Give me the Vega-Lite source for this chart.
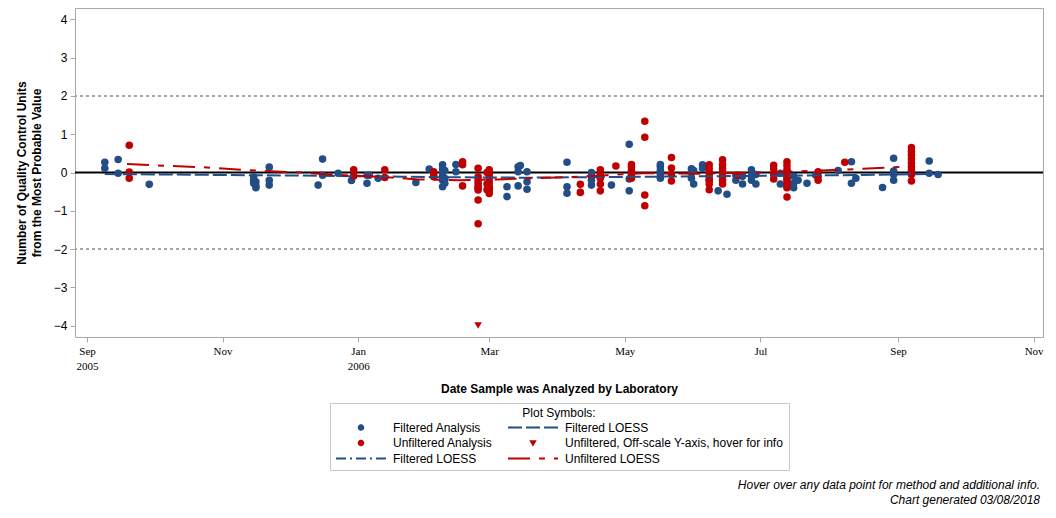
{
  "$schema": "https://vega.github.io/schema/vega-lite/v6.json",
  "width": 968,
  "height": 329,
  "autosize": "none",
  "padding": {"left": 75, "top": 8, "right": 13, "bottom": 181},
  "title": {
    "text": ["Hover over any data point for method and additional info.", "Chart generated 03/08/2018"],
    "orient": "bottom", "anchor": "end", "frame": "group",
    "fontSize": 12, "fontStyle": "italic", "fontWeight": "normal", "font": "Liberation Sans",
    "color": "#000", "lineHeight": 15, "offset": 9, "dx": -3
  },
  "config": {
    "font": "Liberation Sans",
    "view": {"stroke": "#a8a8a8", "strokeWidth": 1},
    "axis": {
      "domain": false, "grid": false, "tickColor": "#a8a8a8", "tickSize": 5,
      "labelColor": "#000", "titleColor": "#000", "labelFontSize": 12, "titleFontSize": 12,
      "titleFontWeight": "bold", "labelFont": "Liberation Sans", "titleFont": "Liberation Sans"
    },
    "legend": {
      "strokeColor": "#c8c8c8", "padding": 5, "titleAnchor": "middle", "titleFontSize": 12,
      "titleFontWeight": "normal", "titleFont": "Liberation Sans", "labelFont": "Liberation Sans",
      "labelFontSize": 12, "labelColor": "#000", "titleColor": "#000", "clipHeight": 13,
      "rowPadding": 2.5, "columnPadding": 14, "labelOffset": 6, "titlePadding": 1,
      "labelLimit": 400, "titleLimit": 500, "symbolStrokeWidth": 2
    }
  },
  "encoding": {
    "y": {
      "field": "v", "type": "quantitative",
      "scale": {"domain": [-4.3, 4.3], "nice": false, "zero": false},
      "axis": {"values": [-4, -3, -2, -1, 0, 1, 2, 3, 4], "labelPadding": 3, "titlePadding": 10, "titleLineHeight": 15},
      "title": ["Number of Quality Control Units", "from the Most Probable Value"]
    }
  },
  "layer": [
    {
      "data": {"values": [{"v": 2}, {"v": -2}]},
      "mark": {"type": "rule", "color": "#a8a8a8", "strokeDash": [3, 3], "strokeWidth": 2}
    },
    {
      "data": {"values": [{"v": 0}]},
      "mark": {"type": "rule", "color": "#000000", "strokeWidth": 2}
    },
    {
      "data": {"values": [
        {"d":"2005-09-09","v":0.27,"s":"FA"},{"d":"2005-09-09","v":0.11,"s":"FA"},
        {"d":"2005-09-15","v":0.34,"s":"FA"},{"d":"2005-09-15","v":-0.02,"s":"FA"},
        {"d":"2005-09-29","v":-0.31,"s":"FA"},
        {"d":"2005-11-15","v":-0.12,"s":"FA"},{"d":"2005-11-15","v":-0.2,"s":"FA"},{"d":"2005-11-15","v":-0.28,"s":"FA"},
        {"d":"2005-11-16","v":-0.35,"s":"FA"},{"d":"2005-11-16","v":-0.4,"s":"FA"},{"d":"2005-11-16","v":-0.24,"s":"FA"},
        {"d":"2005-11-22","v":0.14,"s":"FA"},{"d":"2005-11-22","v":-0.2,"s":"FA"},{"d":"2005-11-22","v":-0.33,"s":"FA"},
        {"d":"2005-12-14","v":-0.33,"s":"FA"},
        {"d":"2005-12-16","v":0.35,"s":"FA"},{"d":"2005-12-16","v":-0.07,"s":"FA"},
        {"d":"2005-12-23","v":-0.02,"s":"FA"},
        {"d":"2005-12-29","v":-0.21,"s":"FA"},
        {"d":"2006-01-05","v":-0.28,"s":"FA"},{"d":"2006-01-05","v":-0.07,"s":"FA"},
        {"d":"2006-01-06","v":-0.07,"s":"FA"},
        {"d":"2006-01-10","v":-0.15,"s":"FA"},
        {"d":"2006-01-27","v":-0.26,"s":"FA"},
        {"d":"2006-02-02","v":0.09,"s":"FA"},
        {"d":"2006-02-08","v":0.2,"s":"FA"},{"d":"2006-02-08","v":0.1,"s":"FA"},{"d":"2006-02-08","v":0.0,"s":"FA"},{"d":"2006-02-08","v":-0.1,"s":"FA"},{"d":"2006-02-08","v":-0.2,"s":"FA"},{"d":"2006-02-08","v":-0.37,"s":"FA"},
        {"d":"2006-02-09","v":0.05,"s":"FA"},{"d":"2006-02-09","v":-0.15,"s":"FA"},{"d":"2006-02-09","v":-0.28,"s":"FA"},
        {"d":"2006-02-14","v":0.21,"s":"FA"},{"d":"2006-02-14","v":0.02,"s":"FA"},
        {"d":"2006-03-09","v":-0.37,"s":"FA"},{"d":"2006-03-09","v":-0.63,"s":"FA"},
        {"d":"2006-03-14","v":0.15,"s":"FA"},{"d":"2006-03-14","v":0.02,"s":"FA"},{"d":"2006-03-14","v":-0.35,"s":"FA"},
        {"d":"2006-03-15","v":0.18,"s":"FA"},
        {"d":"2006-03-18","v":0.02,"s":"FA"},{"d":"2006-03-18","v":-0.24,"s":"FA"},{"d":"2006-03-18","v":-0.44,"s":"FA"},
        {"d":"2006-04-05","v":0.27,"s":"FA"},{"d":"2006-04-05","v":-0.37,"s":"FA"},{"d":"2006-04-05","v":-0.54,"s":"FA"},
        {"d":"2006-04-16","v":0.0,"s":"FA"},{"d":"2006-04-16","v":-0.1,"s":"FA"},{"d":"2006-04-16","v":-0.2,"s":"FA"},{"d":"2006-04-16","v":-0.33,"s":"FA"},
        {"d":"2006-04-25","v":-0.33,"s":"FA"},
        {"d":"2006-05-03","v":0.74,"s":"FA"},{"d":"2006-05-03","v":-0.17,"s":"FA"},{"d":"2006-05-03","v":-0.48,"s":"FA"},
        {"d":"2006-05-17","v":0.21,"s":"FA"},{"d":"2006-05-17","v":0.15,"s":"FA"},{"d":"2006-05-17","v":0.05,"s":"FA"},{"d":"2006-05-17","v":-0.05,"s":"FA"},{"d":"2006-05-17","v":-0.15,"s":"FA"},
        {"d":"2006-05-31","v":0.1,"s":"FA"},{"d":"2006-05-31","v":0.0,"s":"FA"},{"d":"2006-05-31","v":-0.15,"s":"FA"},
        {"d":"2006-06-01","v":0.05,"s":"FA"},{"d":"2006-06-01","v":-0.3,"s":"FA"},
        {"d":"2006-06-05","v":0.2,"s":"FA"},{"d":"2006-06-05","v":0.11,"s":"FA"},
        {"d":"2006-06-08","v":-0.2,"s":"FA"},
        {"d":"2006-06-12","v":-0.48,"s":"FA"},
        {"d":"2006-06-16","v":-0.57,"s":"FA"},
        {"d":"2006-06-20","v":-0.07,"s":"FA"},{"d":"2006-06-20","v":-0.2,"s":"FA"},
        {"d":"2006-06-23","v":-0.1,"s":"FA"},{"d":"2006-06-23","v":-0.3,"s":"FA"},
        {"d":"2006-06-27","v":0.07,"s":"FA"},{"d":"2006-06-27","v":-0.1,"s":"FA"},{"d":"2006-06-27","v":-0.2,"s":"FA"},
        {"d":"2006-06-29","v":-0.05,"s":"FA"},{"d":"2006-06-29","v":-0.3,"s":"FA"},
        {"d":"2006-07-10","v":-0.02,"s":"FA"},{"d":"2006-07-10","v":-0.3,"s":"FA"},
        {"d":"2006-07-13","v":-0.15,"s":"FA"},{"d":"2006-07-13","v":-0.37,"s":"FA"},
        {"d":"2006-07-16","v":-0.1,"s":"FA"},{"d":"2006-07-16","v":-0.28,"s":"FA"},{"d":"2006-07-16","v":-0.4,"s":"FA"},
        {"d":"2006-07-18","v":-0.2,"s":"FA"},
        {"d":"2006-07-22","v":-0.28,"s":"FA"},
        {"d":"2006-07-26","v":-0.07,"s":"FA"},
        {"d":"2006-08-05","v":0.05,"s":"FA"},
        {"d":"2006-08-11","v":0.28,"s":"FA"},{"d":"2006-08-11","v":-0.28,"s":"FA"},
        {"d":"2006-08-13","v":-0.15,"s":"FA"},
        {"d":"2006-08-25","v":-0.39,"s":"FA"},
        {"d":"2006-08-30","v":0.37,"s":"FA"},{"d":"2006-08-30","v":0.04,"s":"FA"},{"d":"2006-08-30","v":-0.05,"s":"FA"},{"d":"2006-08-30","v":-0.2,"s":"FA"},
        {"d":"2006-09-15","v":0.3,"s":"FA"},{"d":"2006-09-15","v":-0.02,"s":"FA"},
        {"d":"2006-09-19","v":-0.05,"s":"FA"},
        {"d":"2005-09-20","v":0.71,"s":"UA"},{"d":"2005-09-20","v":0.01,"s":"UA"},{"d":"2005-09-20","v":-0.15,"s":"UA"},
        {"d":"2005-12-30","v":0.07,"s":"UA"},{"d":"2005-12-30","v":-0.09,"s":"UA"},
        {"d":"2006-01-13","v":0.07,"s":"UA"},{"d":"2006-01-13","v":-0.13,"s":"UA"},
        {"d":"2006-02-04","v":0.02,"s":"UA"},{"d":"2006-02-04","v":-0.06,"s":"UA"},{"d":"2006-02-04","v":-0.11,"s":"UA"},
        {"d":"2006-02-17","v":0.28,"s":"UA"},{"d":"2006-02-17","v":0.2,"s":"UA"},{"d":"2006-02-17","v":-0.35,"s":"UA"},
        {"d":"2006-02-24","v":0.11,"s":"UA"},{"d":"2006-02-24","v":-0.11,"s":"UA"},{"d":"2006-02-24","v":-0.2,"s":"UA"},{"d":"2006-02-24","v":-0.28,"s":"UA"},{"d":"2006-02-24","v":-0.36,"s":"UA"},{"d":"2006-02-24","v":-0.42,"s":"UA"},{"d":"2006-02-24","v":-0.46,"s":"UA"},{"d":"2006-02-24","v":-0.72,"s":"UA"},{"d":"2006-02-24","v":-1.34,"s":"UA"},
        {"d":"2006-02-28","v":0.0,"s":"UA"},{"d":"2006-02-28","v":-0.3,"s":"UA"},{"d":"2006-02-28","v":-0.45,"s":"UA"},
        {"d":"2006-03-01","v":0.07,"s":"UA"},{"d":"2006-03-01","v":-0.05,"s":"UA"},{"d":"2006-03-01","v":-0.15,"s":"UA"},{"d":"2006-03-01","v":-0.25,"s":"UA"},{"d":"2006-03-01","v":-0.35,"s":"UA"},{"d":"2006-03-01","v":-0.42,"s":"UA"},{"d":"2006-03-01","v":-0.48,"s":"UA"},{"d":"2006-03-01","v":-0.55,"s":"UA"},
        {"d":"2006-04-11","v":-0.31,"s":"UA"},{"d":"2006-04-11","v":-0.52,"s":"UA"},
        {"d":"2006-04-20","v":0.07,"s":"UA"},{"d":"2006-04-20","v":-0.05,"s":"UA"},{"d":"2006-04-20","v":-0.15,"s":"UA"},{"d":"2006-04-20","v":-0.3,"s":"UA"},{"d":"2006-04-20","v":-0.48,"s":"UA"},
        {"d":"2006-04-27","v":0.17,"s":"UA"},
        {"d":"2006-05-04","v":0.21,"s":"UA"},{"d":"2006-05-04","v":0.15,"s":"UA"},{"d":"2006-05-04","v":0.05,"s":"UA"},{"d":"2006-05-04","v":-0.05,"s":"UA"},{"d":"2006-05-04","v":-0.15,"s":"UA"},
        {"d":"2006-05-10","v":1.34,"s":"UA"},{"d":"2006-05-10","v":0.92,"s":"UA"},{"d":"2006-05-10","v":-0.59,"s":"UA"},{"d":"2006-05-10","v":-0.87,"s":"UA"},
        {"d":"2006-05-22","v":0.39,"s":"UA"},{"d":"2006-05-22","v":0.12,"s":"UA"},{"d":"2006-05-22","v":-0.05,"s":"UA"},{"d":"2006-05-22","v":-0.22,"s":"UA"},
        {"d":"2006-06-08","v":0.2,"s":"UA"},{"d":"2006-06-08","v":0.1,"s":"UA"},{"d":"2006-06-08","v":0.0,"s":"UA"},{"d":"2006-06-08","v":-0.1,"s":"UA"},{"d":"2006-06-08","v":-0.2,"s":"UA"},{"d":"2006-06-08","v":-0.3,"s":"UA"},{"d":"2006-06-08","v":-0.45,"s":"UA"},
        {"d":"2006-06-14","v":0.33,"s":"UA"},{"d":"2006-06-14","v":0.2,"s":"UA"},{"d":"2006-06-14","v":0.1,"s":"UA"},{"d":"2006-06-14","v":0.0,"s":"UA"},{"d":"2006-06-14","v":-0.1,"s":"UA"},{"d":"2006-06-14","v":-0.2,"s":"UA"},{"d":"2006-06-14","v":-0.3,"s":"UA"},
        {"d":"2006-06-21","v":-0.07,"s":"UA"},
        {"d":"2006-07-07","v":0.19,"s":"UA"},{"d":"2006-07-07","v":0.1,"s":"UA"},{"d":"2006-07-07","v":-0.05,"s":"UA"},{"d":"2006-07-07","v":-0.17,"s":"UA"},
        {"d":"2006-07-13","v":0.28,"s":"UA"},{"d":"2006-07-13","v":0.18,"s":"UA"},{"d":"2006-07-13","v":0.08,"s":"UA"},{"d":"2006-07-13","v":0.0,"s":"UA"},{"d":"2006-07-13","v":-0.1,"s":"UA"},{"d":"2006-07-13","v":-0.2,"s":"UA"},{"d":"2006-07-13","v":-0.3,"s":"UA"},{"d":"2006-07-13","v":-0.4,"s":"UA"},{"d":"2006-07-13","v":-0.64,"s":"UA"},
        {"d":"2006-07-27","v":0.02,"s":"UA"},{"d":"2006-07-27","v":-0.1,"s":"UA"},{"d":"2006-07-27","v":-0.2,"s":"UA"},
        {"d":"2006-08-08","v":0.27,"s":"UA"},
        {"d":"2006-09-07","v":0.65,"s":"UA"},{"d":"2006-09-07","v":0.55,"s":"UA"},{"d":"2006-09-07","v":0.45,"s":"UA"},{"d":"2006-09-07","v":0.35,"s":"UA"},{"d":"2006-09-07","v":0.25,"s":"UA"},{"d":"2006-09-07","v":0.15,"s":"UA"},{"d":"2006-09-07","v":0.05,"s":"UA"},{"d":"2006-09-07","v":-0.05,"s":"UA"},{"d":"2006-09-07","v":-0.22,"s":"UA"},
        {"d":"2006-02-24","v":-4,"s":"OS"}
      ]},
      "mark": {"type": "point", "filled": true, "opacity": 1, "size": 57},
      "encoding": {
        "x": {
          "field": "d", "type": "temporal",
          "scale": {"type": "utc", "domain": [{"year": 2005, "month": 8, "date": 26, "hours": 14, "utc": true}, {"year": 2006, "month": 11, "date": 5, "hours": 5, "utc": true}]},
          "axis": {
            "values": [{"year": 2005, "month": 9, "date": 1, "utc": true}, {"year": 2005, "month": 11, "date": 1, "utc": true}, {"year": 2006, "month": 1, "date": 1, "utc": true}, {"year": 2006, "month": 3, "date": 1, "utc": true}, {"year": 2006, "month": 5, "date": 1, "utc": true}, {"year": 2006, "month": 7, "date": 1, "utc": true}, {"year": 2006, "month": 9, "date": 1, "utc": true}, {"year": 2006, "month": 11, "date": 1, "utc": true}],
            "labelExpr": "utcmonth(datum.value) == 0 || datum.index == 0 ? [utcFormat(datum.value, '%b'), utcFormat(datum.value, '%Y')] : utcFormat(datum.value, '%b')",
            "labelFlush": false, "labelOverlap": false, "labelFont": "Liberation Sans Narrow", "labelFontSize": 11,
            "labelLineHeight": 15, "labelPadding": 3, "titlePadding": 12
          },
          "title": "Date Sample was Analyzed by Laboratory"
        },
        "color": {
          "field": "s", "type": "nominal",
          "scale": {"domain": ["FA", "UA", "FD", "FL", "OS", "UL"], "range": ["#224d86", "#c00000", "#224d86", "#224d86", "#c00000", "#c00000"]},
          "legend": {
            "title": "Plot Symbols:", "orient": "none", "legendX": 255, "legendY": 395, "columns": 2,
            "labelExpr": "datum.value == 'FA' ? 'Filtered Analysis' : datum.value == 'FL' ? 'Filtered LOESS' : datum.value == 'UA' ? 'Unfiltered Analysis' : datum.value == 'OS' ? 'Unfiltered, Off-scale Y-axis, hover for info' : datum.value == 'FD' ? 'Filtered LOESS' : 'Unfiltered LOESS'"
          }
        },
        "shape": {
          "field": "s", "type": "nominal",
          "scale": {"domain": ["FA", "UA", "FD", "FL", "OS", "UL"], "range": ["circle", "circle", "stroke", "stroke", "triangle-down", "stroke"]},
          "legend": {"title": "Plot Symbols:", "orient": "none", "legendX": 255, "legendY": 395, "columns": 2}
        }
      }
    },
    {
      "data": {"values": []},
      "mark": {"type": "point", "filled": true, "opacity": 1},
      "encoding": {
        "color": {
          "field": "s", "type": "nominal",
          "scale": {"domain": ["FA", "UA", "FD", "FL", "OS", "UL"], "range": ["#224d86", "#c00000", "#224d86", "#224d86", "#c00000", "#c00000"]},
          "legend": {"title": "Plot Symbols:", "orient": "none", "legendX": 255, "legendY": 395, "columns": 2}
        },
        "shape": {
          "field": "s", "type": "nominal",
          "scale": {"domain": ["FA", "UA", "FD", "FL", "OS", "UL"], "range": ["circle", "circle", "stroke", "stroke", "triangle-down", "stroke"]},
          "legend": {"title": "Plot Symbols:", "orient": "none", "legendX": 255, "legendY": 395, "columns": 2}
        },
        "size": {
          "field": "s", "type": "nominal",
          "scale": {"type": "ordinal", "domain": ["FA", "UA", "FD", "FL", "OS", "UL"], "range": [20, 20, 2500, 2500, 16, 2500]},
          "legend": {"title": "Plot Symbols:", "orient": "none", "legendX": 255, "legendY": 395, "columns": 2}
        }
      }
    },
    {
      "data": {"values": [
        {"d":"2005-09-09","v":-0.04,"s":"FL"},{"d":"2005-10-22","v":-0.06,"s":"FL"},{"d":"2005-12-06","v":-0.08,"s":"FL"},
        {"d":"2006-01-20","v":-0.11,"s":"FL"},{"d":"2006-02-24","v":-0.13,"s":"FL"},{"d":"2006-03-19","v":-0.135,"s":"FL"},
        {"d":"2006-04-19","v":-0.12,"s":"FL"},{"d":"2006-06-03","v":-0.1,"s":"FL"},{"d":"2006-07-18","v":-0.08,"s":"FL"},
        {"d":"2006-08-23","v":-0.06,"s":"FL"},{"d":"2006-09-18","v":-0.04,"s":"FL"},
        {"d":"2005-09-19","v":0.22,"s":"UL"},{"d":"2005-10-22","v":0.14,"s":"UL"},{"d":"2005-11-13","v":0.06,"s":"UL"},
        {"d":"2005-12-06","v":0.0,"s":"UL"},{"d":"2005-12-26","v":-0.07,"s":"UL"},{"d":"2006-01-10","v":-0.11,"s":"UL"},
        {"d":"2006-01-28","v":-0.18,"s":"UL"},{"d":"2006-02-15","v":-0.2,"s":"UL"},{"d":"2006-03-05","v":-0.18,"s":"UL"},
        {"d":"2006-03-21","v":-0.15,"s":"UL"},{"d":"2006-04-07","v":-0.12,"s":"UL"},{"d":"2006-04-23","v":-0.07,"s":"UL"},
        {"d":"2006-05-09","v":-0.02,"s":"UL"},{"d":"2006-06-03","v":-0.03,"s":"UL"},{"d":"2006-07-04","v":0.0,"s":"UL"},
        {"d":"2006-07-24","v":0.04,"s":"UL"},{"d":"2006-08-09","v":0.08,"s":"UL"},{"d":"2006-09-07","v":0.16,"s":"UL"}
      ]},
      "mark": {"type": "line", "strokeWidth": 2},
      "encoding": {
        "x": {
          "field": "d", "type": "temporal",
          "scale": {"type": "utc", "domain": [{"year": 2005, "month": 8, "date": 26, "hours": 14, "utc": true}, {"year": 2006, "month": 11, "date": 5, "hours": 5, "utc": true}]},
          "axis": {
            "values": [{"year": 2005, "month": 9, "date": 1, "utc": true}, {"year": 2005, "month": 11, "date": 1, "utc": true}, {"year": 2006, "month": 1, "date": 1, "utc": true}, {"year": 2006, "month": 3, "date": 1, "utc": true}, {"year": 2006, "month": 5, "date": 1, "utc": true}, {"year": 2006, "month": 7, "date": 1, "utc": true}, {"year": 2006, "month": 9, "date": 1, "utc": true}, {"year": 2006, "month": 11, "date": 1, "utc": true}],
            "labelExpr": "utcmonth(datum.value) == 0 || datum.index == 0 ? [utcFormat(datum.value, '%b'), utcFormat(datum.value, '%Y')] : utcFormat(datum.value, '%b')",
            "labelFlush": false, "labelOverlap": false, "labelFont": "Liberation Sans Narrow", "labelFontSize": 11,
            "labelLineHeight": 15, "labelPadding": 3, "titlePadding": 12
          },
          "title": "Date Sample was Analyzed by Laboratory"
        },
        "color": {
          "field": "s", "type": "nominal",
          "scale": {"domain": ["FA", "UA", "FD", "FL", "OS", "UL"], "range": ["#224d86", "#c00000", "#224d86", "#224d86", "#c00000", "#c00000"]},
          "legend": {"title": "Plot Symbols:", "orient": "none", "legendX": 255, "legendY": 395, "columns": 2}
        },
        "strokeDash": {
          "field": "s", "type": "nominal",
          "scale": {"domain": ["FA", "UA", "FD", "FL", "OS", "UL"], "range": [[1, 0], [1, 0], [10, 4, 2, 4], [14, 4], [1, 0], [22, 9, 6, 9]]},
          "legend": {"title": "Plot Symbols:", "orient": "none", "legendX": 255, "legendY": 395, "columns": 2}
        }
      }
    }
  ]
}
